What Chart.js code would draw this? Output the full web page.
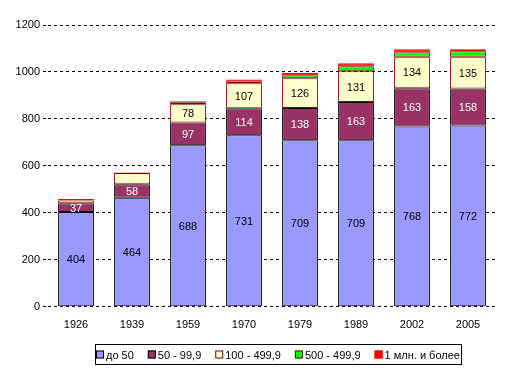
<!DOCTYPE html>
<html>
<head>
<meta charset="utf-8">
<script src="https://cdn.jsdelivr.net/npm/chart.js@4"></script>
<style>
html,body{margin:0;padding:0;background:#fff;}
#wrap{width:512px;height:374px;position:relative;}
</style>
</head>
<body>
<div id="wrap"><canvas id="c" width="512" height="374"></canvas></div>
<script>
const years = ['1926','1939','1959','1970','1979','1989','2002','2005'];
const seriesNames = ['до 50','50 - 99,9','100 - 499,9','500 - 499,9','1 млн. и более'];
const under50    = [404, 464, 688, 731, 709, 709, 768, 772];
const s50_99     = [37, 58, 97, 114, 138, 163, 163, 158];
const s100_499   = [12, 48, 78, 107, 126, 131, 134, 135];
const s500_999   = [0, 0, 8, 6, 13, 21, 19, 23];
const millionPlus= [6, 2, 4, 10, 10, 13, 13, 9];
const yTicks = [0, 200, 400, 600, 800, 1000, 1200];

const FONT = 'Liberation Sans, Arial, sans-serif';

const fills   = ['#9999FF','#993366','#FFFFCC','#00FF00','#FF0000'];
const borders = ['#000000','#000000','#800000','#800000','#FF0000'];
const labelColors = ['#000000','#FFFFFF','#000000'];
const allData = [under50, s50_99, s100_499, s500_999, millionPlus];

const datasets = allData.map((d,i)=>({
  label: seriesNames[i],
  data: d,
  backgroundColor: fills[i],
  borderColor: borders[i],
  borderWidth: 1,
  borderSkipped: false,
  barPercentage: 1,
  categoryPercentage: 0.64
}));

const segLabels = {
  id:'segLabels',
  afterDatasetsDraw(chart){
    const ctx = chart.ctx;
    ctx.save();
    ctx.font = '11px ' + FONT;
    ctx.textAlign = 'center';
    ctx.textBaseline = 'middle';
    for (let di=0; di<3; di++){
      const meta = chart.getDatasetMeta(di);
      meta.data.forEach((el,i)=>{
        const v = allData[di][i];
        if (di === 2 && v < 70) return;
        const p = el.getProps(['x','y','base'], true);
        ctx.fillStyle = labelColors[di];
        ctx.fillText(String(v), p.x, (p.y+p.base)/2 + 1);
      });
    }
    ctx.restore();
  }
};

const boxLegend = {
  id:'boxLegend',
  afterDraw(chart){
    const ctx = chart.ctx;
    ctx.save();
    ctx.font = '11px ' + FONT;
    ctx.textBaseline = 'middle';
    ctx.textAlign = 'left';
    const bx = 95, by = 344, bw = 366, bh = 20;
    ctx.strokeStyle = '#000';
    ctx.lineWidth = 1;
    ctx.strokeRect(bx+0.5, by+0.5, bw, bh);
    const box = 8, gapIn = 2, gapOut = 14;
    let widths = seriesNames.map(t=>ctx.measureText(t).width);
    let total = widths.reduce((a,b)=>a+b,0) + seriesNames.length*(box+gapIn) + (seriesNames.length-1)*gapOut;
    let x = Math.round(bx + (bw - total)/2);
    const cy = by + bh/2 + 0.5;
    seriesNames.forEach((t,i)=>{
      ctx.fillStyle = fills[i];
      ctx.fillRect(x, cy-4, box, box);
      ctx.strokeStyle = borders[i];
      ctx.strokeRect(x+0.5, cy-3.5, box-1, box-1);
      ctx.fillStyle = '#000';
      ctx.fillText(t, x+box+gapIn, cy+1);
      x += box + gapIn + widths[i] + gapOut;
    });
    ctx.restore();
  }
};

new Chart(document.getElementById('c'), {
  type:'bar',
  data:{ labels: years, datasets },
  options:{
    responsive:false,
    animation:false,
    layout:{ padding:{ left:0, right:16, top:25, bottom:38 } },
    plugins:{ legend:{display:false}, tooltip:{enabled:false} },
    scales:{
      x:{
        stacked:true,
        grid:{ display:false },
        border:{ display:false },
        ticks:{ color:'#000', font:{ family:FONT, size:11 }, padding:4, maxRotation:0 }
      },
      y:{
        stacked:true,
        min:0, max:1200,
        afterBuildTicks(scale){ scale.ticks = yTicks.map(v=>({value:v})); },
        afterFit(scale){ scale.width = 48; },
        grid:{ color:'#000', lineWidth:1, tickLength:5, tickBorderDash:[3,3], tickColor:'#000' },
        border:{ display:false, dash:[3,3] },
        ticks:{ color:'#000', font:{ family:FONT, size:11 }, padding:3, callback:(v)=>String(v) }
      }
    }
  },
  plugins:[segLabels, boxLegend]
});
</script>
</body>
</html>
